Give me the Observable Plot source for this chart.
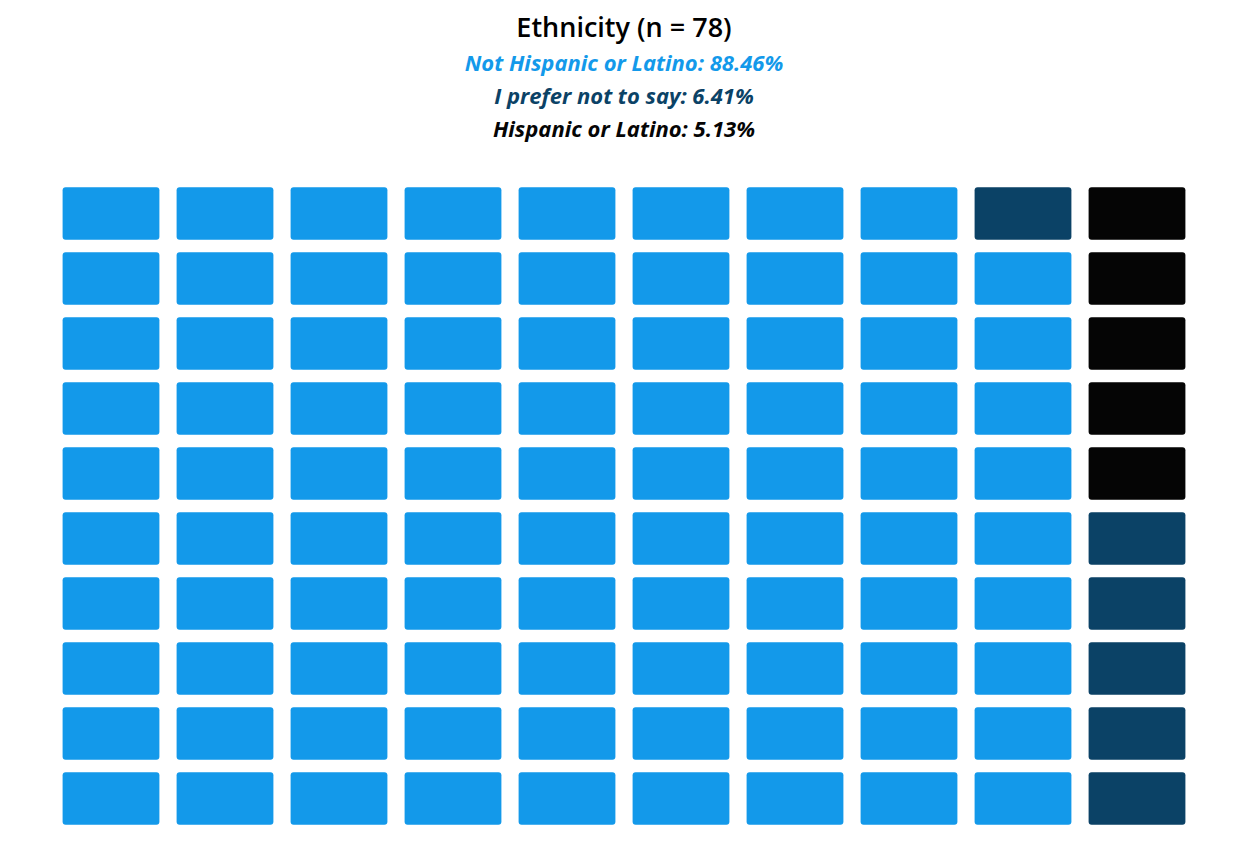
<!DOCTYPE html>
<html>
<head>
<meta charset="utf-8">
<script src="https://cdn.jsdelivr.net/npm/d3@7"></script>
<script src="https://cdn.jsdelivr.net/npm/@observablehq/plot@0.6"></script>
<style>
  body { margin: 0; background: #fff; font-family: "Open Sans", sans-serif; }
  #head { height: 158px; text-align: center; box-sizing: border-box; padding-top: 8px; }
  #head .t { font-size: 27px; font-weight: 600; color: #000; line-height: 38px; }
  #head .s { font-size: 22px; font-weight: 700; font-style: italic; line-height: 33px; }
</style>
</head>
<body>
<div id="head"></div>
<div id="chart"></div>
<script>
const categories = ["Not Hispanic or Latino", "I prefer not to say", "Hispanic or Latino"];
const percents = [88.46, 6.41, 5.13];
const cellCounts = [89, 6, 5];
const colors = ["#1399EA", "#0B4266", "#050505"];
const nCols = 10, nRows = 10;

const head = d3.select("#head");
head.append("div").attr("class", "t").text("Ethnicity (n = 78)");
categories.forEach((c, i) => {
  head.append("div").attr("class", "s").style("color", colors[i])
    .text(`${c}: ${percents[i].toFixed(2)}%`);
});

// fill column by column, bottom to top
let cells = [];
let k = 0;
categories.forEach((c, i) => {
  for (let j = 0; j < cellCounts[i]; j++, k++) {
    cells.push({col: Math.floor(k / nRows), row: nRows - 1 - (k % nRows), cat: c});
  }
});

let chart = Plot.plot({
  width: 1248,
  height: 685,
  marginTop: 20,
  marginBottom: 10,
  marginLeft: 51,
  marginRight: 51,
  x: {domain: d3.range(nCols), padding: 0, axis: null},
  y: {domain: d3.range(nRows), padding: 0, axis: null},
  color: {domain: categories, range: colors},
  marks: [
    Plot.cell(cells, {
      x: "col", y: "row", fill: "cat",
      insetLeft: 8.6, insetRight: 8.6, insetTop: 6.2, insetBottom: 6.2,
      rx: 3
    })
  ]
});

d3.select("#chart").append(() => chart);
</script>
</body>
</html>
